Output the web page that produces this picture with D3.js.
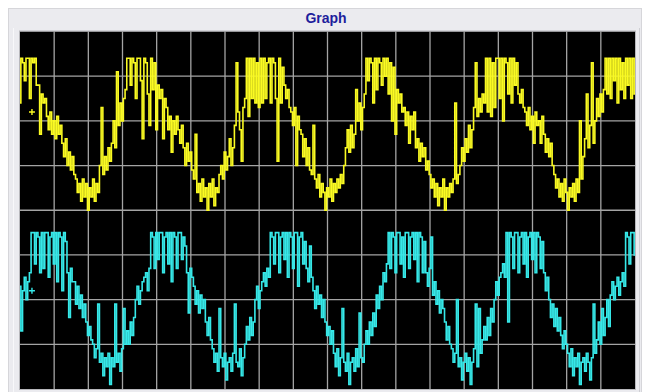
<!DOCTYPE html>
<html><head><meta charset="utf-8">
<script src="https://cdn.jsdelivr.net/npm/d3@7"></script>
<style>html,body{margin:0;padding:0;background:#fff;}svg{display:block;}</style>
</head><body><svg id="c" width="648" height="392"></svg>
<script>
// ---- data (values in screen divisions, 0 = bottom edge) ----
const title = "Graph";
const sampleStep = 0.05;          // divisions per sample
const xDivisions = 18;
const yDivisions = 8;
const channel1 = [
 6.4,7.4,7.3,6.9,7.4,7.4,6.5,7.4,7.3,7.4,6.8,
 6.8,5.7,6.6,6.4,6.5,
 6.1,5.8,6.2,5.7,6.0,5.6,6.1,5.7,5.9,
 5.5,5.2,5.6,5.0,5.3,4.9,5.2,4.8,
 4.7,4.4,4.6,4.2,4.7,4.3,4.6,4.0,4.5,4.3,4.7,4.2,4.6,4.4,
 5.0,6.3,4.8,5.2,4.9,5.4,5.1,
 5.5,6.0,5.4,7.1,5.9,6.4,6.0,6.5,6.7,
 7.4,7.4,6.8,7.4,7.3,6.5,7.4,7.4,6.9,5.6,7.4,7.3,6.6,5.9,7.4,6.7,7.3,
 5.8,6.8,6.5,6.7,5.6,6.5,
 6.3,5.8,6.1,5.3,6.0,5.7,6.1,5.8,5.5,5.9,
 5.4,5.0,5.5,5.1,5.3,4.9,
 4.7,5.7,4.4,4.6,4.2,4.7,4.3,4.5,4.0,4.6,4.3,4.7,4.1,4.5,4.4,4.8,
 5.0,4.7,5.3,4.9,5.2,5.6,5.0,5.4,
 5.9,7.3,6.2,5.8,5.1,6.3,6.5,
 7.4,6.1,7.4,6.5,7.4,6.4,7.3,6.3,7.4,6.4,7.4,6.5,7.3,7.4,6.4,7.4,7.3,6.5,5.1,7.4,6.4,7.2,
 6.8,6.5,6.7,6.3,
 6.2,5.9,6.3,5.0,6.1,5.8,
 5.7,5.2,5.6,5.0,5.4,4.9,
 4.8,5.9,4.7,4.5,4.8,4.3,4.6,4.4,4.0,4.5,4.3,4.7,4.2,4.6,4.4,4.7,4.5,4.8,4.6,
 5.0,5.4,5.8,5.3,5.9,5.4,5.7,6.7,
 6.0,6.4,5.8,6.3,6.6,
 7.4,6.9,7.4,7.3,6.4,7.4,6.7,7.4,7.3,6.8,7.4,7.0,7.4,6.6,7.3,6.0,7.2,
 5.7,6.7,6.4,6.6,6.2,
 6.3,5.9,6.2,5.5,6.1,5.8,6.2,5.4,
 5.6,5.1,5.5,5.2,5.4,4.9,5.1,
 4.8,4.5,4.7,4.3,4.6,4.1,4.5,4.3,4.7,4.0,4.5,4.3,4.6,4.4,4.7,6.4,4.6,4.8,
 5.0,5.4,5.1,5.6,5.3,5.9,5.4,5.8,
 6.3,7.3,6.1,6.5,6.2,6.6,6.4,
 7.4,6.2,7.4,6.1,7.3,6.3,7.4,7.4,6.5,7.4,6.0,7.4,7.3,6.6,7.4,6.4,7.4,6.8,7.3,
 6.6,6.4,6.7,6.3,
 6.2,5.9,6.3,5.8,6.1,5.5,6.2,5.9,6.0,5.5,6.1,
 5.7,5.3,5.6,5.2,5.5,5.0,
 4.8,4.5,4.7,4.3,4.6,4.2,4.7,4.4,4.0,4.5,4.3,4.6,4.2,4.7,4.4,6.0,4.7,
 5.2,5.6,6.6,5.4,5.9,7.3,5.5,
 6.0,6.5,6.1,6.6,6.2,6.7,
 7.4,6.6,7.4,6.5,7.4,6.9,7.4,6.4,7.4,6.7,7.3,6.5,7.4,6.8,7.4,6.5,7.4,6.6
];
const channel2 = [
 2.3,1.3,2.2,2.5,2.0,2.4,2.6,
 3.5,3.5,2.8,3.5,3.4,2.6,3.5,2.7,3.5,3.5,2.5,3.4,3.5,2.8,3.5,2.4,3.5,3.4,2.2,3.5,3.3,
 2.6,1.6,2.7,2.4,
 2.4,1.9,2.3,1.8,2.1,1.6,1.9,
 1.5,1.2,1.4,1.1,
 1.0,0.7,0.9,1.9,0.6,0.8,0.3,0.7,0.5,0.8,0.1,0.7,0.5,1.9,0.6,0.8,0.4,0.9,1.8,1.0,
 1.3,1.0,1.5,1.2,1.6,
 2.0,2.3,1.9,2.2,2.4,
 2.5,2.6,2.2,2.7,
 3.5,3.4,2.7,3.5,2.9,3.5,3.5,2.6,3.4,3.5,2.8,3.5,2.4,3.5,3.4,2.7,3.5,3.5,2.9,3.4,3.2,
 2.6,1.7,2.7,2.5,
 2.3,1.9,2.2,1.7,2.1,1.8,2.0,
 1.5,1.2,1.6,1.1,
 0.9,0.6,0.8,0.4,1.8,0.7,0.5,0.8,0.2,0.6,0.7,0.4,0.8,1.9,0.6,0.5,0.9,0.3,0.7,1.0,
 1.4,1.1,1.6,1.2,1.5,
 2.0,2.3,1.8,2.2,2.4,
 2.6,2.3,2.7,2.5,
 3.5,3.4,2.8,3.5,3.5,2.6,3.4,3.5,2.9,3.5,2.5,3.5,3.4,2.7,3.5,3.5,2.3,3.4,3.5,2.8,3.3,
 2.7,2.4,3.2,2.5,
 2.2,1.8,2.3,1.9,2.1,1.6,2.0,
 1.5,1.2,1.4,1.0,1.3,
 0.8,0.5,0.9,0.3,0.7,1.8,0.6,0.4,0.8,0.1,0.6,0.7,0.4,0.9,0.5,1.7,0.7,0.6,1.0,
 1.3,1.0,1.5,1.2,1.7,1.4,
 2.1,1.8,2.3,2.0,
 2.6,2.4,2.8,
 3.5,2.7,3.5,3.4,2.6,3.5,3.5,2.8,3.4,2.5,3.5,3.5,2.7,3.4,3.5,2.9,3.5,2.4,3.5,3.4,2.6,3.3,
 2.6,2.3,2.7,
 3.4,2.1,2.4,1.9,2.2,1.7,2.0,1.8,
 1.5,1.1,1.4,1.0,
 0.9,0.6,0.8,2.0,0.5,0.7,0.2,0.6,0.8,0.4,0.7,0.1,0.6,0.9,1.9,0.5,1.8,0.8,1.1,
 1.4,1.1,1.6,1.2,1.8,1.5,
 2.0,2.4,2.1,2.5,
 2.6,2.8,2.5,
 3.5,1.5,3.5,3.4,2.7,3.5,3.5,2.6,3.4,3.5,2.8,3.5,2.5,3.4,3.5,2.9,3.5,2.6,3.5,3.4,2.7,3.3,
 2.6,2.2,2.5,
 2.0,1.6,1.9,1.4,1.8,1.3,1.6,
 1.2,0.9,1.3,1.0,
 0.8,0.5,0.9,0.3,0.7,0.5,0.8,0.1,0.6,0.7,0.4,0.8,0.6,0.2,0.7,1.9,0.8,1.1,
 1.5,1.0,1.8,1.2,1.6,2.0,1.4,
 2.1,2.4,2.0,2.3,2.5,2.1,2.4,2.6,2.3,
 3.5,3.4,2.8,3.5,3.5,3.0
];
const channelColors = ["#fafa22", "#36e8e8"];
const markerLevels = [6.2, 2.2];   // channel level markers "+"
const markerTime = 0.35;

// ---- drawing ----
const svg = d3.select("#c");
const W = 648, H = 392;
const plot = {left: 20, right: 635, top: 31.5, bottom: 389};

svg.append("rect").attr("x", 0).attr("y", 0).attr("width", W).attr("height", H).attr("fill", "#ffffff");
svg.append("rect").attr("x", 8.5).attr("y", 8.5).attr("width", 633).attr("height", 390)
  .attr("fill", "#ebebef").attr("stroke", "#d6d6da");
svg.append("line").attr("x1", 13.5).attr("x2", 13.5).attr("y1", 28).attr("y2", 392).attr("stroke", "#f8f8fa");
svg.append("line").attr("x1", 639.5).attr("x2", 639.5).attr("y1", 28).attr("y2", 392).attr("stroke", "#cfcfd4");

svg.append("text").attr("x", 326).attr("y", 23)
  .attr("text-anchor", "middle")
  .attr("font-family", "'Liberation Sans', Arial, sans-serif")
  .attr("font-weight", "bold").attr("font-size", 14)
  .attr("fill", "#1e1e9c").text(title);

const x = d3.scaleLinear().domain([0, xDivisions]).range([plot.left, plot.right]);
const y = d3.scaleLinear().domain([0, yDivisions]).range([plot.bottom, plot.top]);

svg.append("rect").attr("x", plot.left).attr("y", plot.top)
  .attr("width", plot.right - plot.left).attr("height", plot.bottom - plot.top)
  .attr("fill", "#000");

svg.append("clipPath").attr("id", "clip").append("rect")
  .attr("x", plot.left).attr("y", plot.top)
  .attr("width", plot.right - plot.left).attr("height", plot.bottom - plot.top);

const grid = svg.append("g").attr("stroke", "#a4a4a4").attr("stroke-width", 1.3);
grid.selectAll("line.v").data(d3.range(1, xDivisions)).join("line").attr("class", "v")
  .attr("x1", d => x(d)).attr("x2", d => x(d)).attr("y1", plot.top).attr("y2", plot.bottom);
grid.selectAll("line.h").data(d3.range(1, yDivisions)).join("line").attr("class", "h")
  .attr("y1", d => y(d)).attr("y2", d => y(d)).attr("x1", plot.left).attr("x2", plot.right);

const line = d3.line().curve(d3.curveStep).x((d, i) => x(i * sampleStep)).y(d => y(d));
const traces = svg.append("g").attr("clip-path", "url(#clip)");
[channel1, channel2].forEach((ch, k) => {
  traces.append("path").datum(ch).attr("d", line)
    .attr("fill", "none").attr("stroke", channelColors[k])
    .attr("stroke-width", 1.6).attr("stroke-linejoin", "miter");
});

markerLevels.forEach((lv, k) => {
  const cx = x(markerTime), cy = y(lv);
  traces.append("path")
    .attr("d", `M${cx - 3},${cy}H${cx + 3}M${cx},${cy - 3}V${cy + 3}`)
    .attr("stroke", channelColors[k]).attr("stroke-width", 1.4);
});

svg.append("rect").attr("x", plot.left - 0.5).attr("y", plot.top - 0.5)
  .attr("width", plot.right - plot.left + 1).attr("height", plot.bottom - plot.top + 1)
  .attr("fill", "none").attr("stroke", "#b8b8bc");
</script></body></html>
